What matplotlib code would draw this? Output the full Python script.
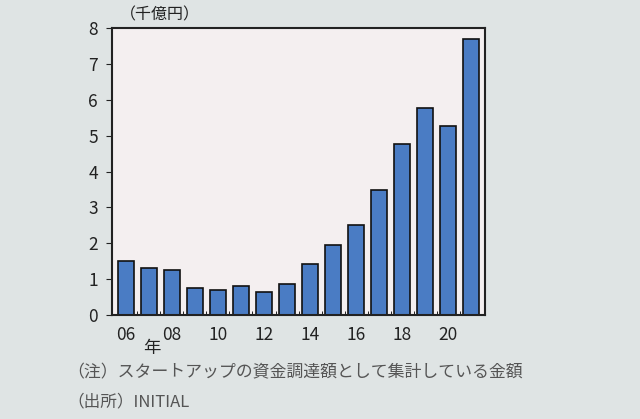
import numpy as np
import matplotlib.pyplot as plt

plt.rcParams['font.family'] = ['Noto Sans CJK JP', 'DejaVu Sans']

years = list(range(2006, 2022))
amount = [1.5, 1.3, 1.25, 0.75, 0.7, 0.82, 0.65, 0.87, 1.42, 1.95, 2.5, 3.5, 4.77, 5.77, 5.27, 7.7]
tick_labels = ['06', '08', '10', '12', '14', '16', '18', '20']

fig = plt.figure(figsize=(6.4, 4.19), dpi=100, facecolor='#dfe4e4')
ax = fig.add_axes([0.175, 0.248, 0.583, 0.685], facecolor='#f4eff0')

x = np.arange(len(years))
ax.bar(x, amount, width=0.68, color='#4a7cc4', edgecolor='#111111', linewidth=1.2)

ax.set_xlim(-0.6, len(years) - 0.4)
ax.set_ylim(0, 8)
ax.set_yticks(range(0, 9))
ax.set_xticks(x[::2])
ax.set_xticklabels(tick_labels)
ax.set_xticks(x[:-1] + 0.5, minor=True)
ax.tick_params(axis='y', direction='out', length=4, labelsize=12.5, pad=6, colors='#222222')
ax.tick_params(axis='x', which='major', length=0, labelsize=12.5, pad=8, colors='#222222')
ax.tick_params(axis='x', which='minor', direction='in', length=3)
for s in ax.spines.values():
    s.set_color('#222222')
    s.set_linewidth(1.5)

fig.text(0.187, 0.965, '（千億円）', fontsize=11.5, color='#222222', va='center', ha='left')
fig.text(0.237, 0.17, '年', fontsize=12.5, color='#222222', va='center', ha='center')
fig.text(0.105, 0.112, '（注）スタートアップの資金調達額として集計している金額', fontsize=12.2,
         color='#555555', va='center', ha='left')
fig.text(0.105, 0.04, '（出所）INITIAL', fontsize=12, color='#555555', va='center', ha='left')

fig.savefig('out.png', dpi=100, facecolor=fig.get_facecolor())
